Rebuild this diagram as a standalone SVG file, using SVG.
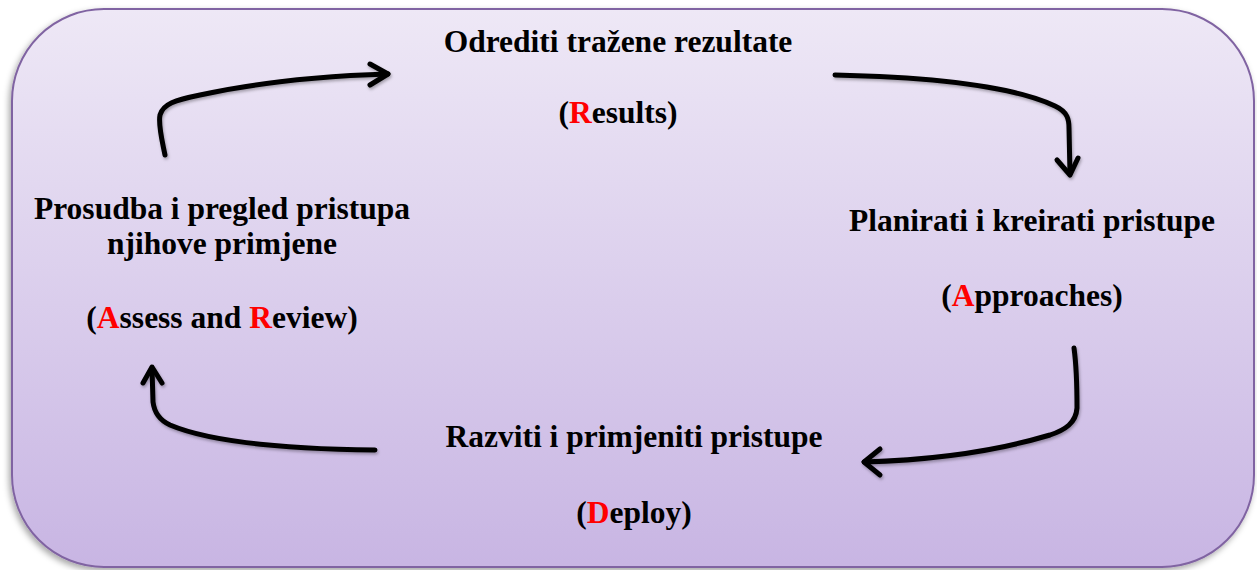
<svg xmlns="http://www.w3.org/2000/svg" width="1257" height="570" viewBox="0 0 1257 570">
<defs>
<linearGradient id="bg" x1="0" y1="0" x2="0" y2="1">
<stop offset="0" stop-color="#eee8f6"/>
<stop offset="1" stop-color="#c8b5e3"/>
</linearGradient>
<filter id="sh" x="-5%" y="-5%" width="110%" height="115%">
<feDropShadow dx="-2" dy="3" stdDeviation="3" flood-color="#000" flood-opacity="0.35"/>
</filter>
<filter id="ash" x="-20%" y="-20%" width="140%" height="140%">
<feDropShadow dx="1" dy="2" stdDeviation="1.5" flood-color="#000" flood-opacity="0.3"/>
</filter>
</defs>
<style>
.t{font-family:"Liberation Serif","Times New Roman",serif;font-weight:bold;font-size:31.5px;fill:#000;text-anchor:middle}
.r{fill:#ff0000}
.c{fill:none;stroke:#000;stroke-width:5;stroke-linecap:round;stroke-linejoin:round}
</style>
<rect id="frame" x="12" y="9" width="1242" height="558" rx="92" ry="92" fill="url(#bg)" stroke="#8064a2" stroke-width="2" filter="url(#sh)"/>
<g id="node-results">
<text class="t" x="618" y="52">Odrediti tražene rezultate</text>
<text class="t" x="618" y="123">(<tspan class="r">R</tspan>esults)</text>
</g>
<g id="node-approaches">
<text class="t" x="1032" y="231">Planirati i kreirati pristupe</text>
<text class="t" x="1032" y="306">(<tspan class="r">A</tspan>pproaches)</text>
</g>
<g id="node-deploy">
<text class="t" x="634" y="447">Razviti i primjeniti pristupe</text>
<text class="t" x="634" y="523">(<tspan class="r">D</tspan>eploy)</text>
</g>
<g id="node-assess">
<text class="t" x="222" y="219">Prosudba i pregled pristupa</text>
<text class="t" x="222" y="254">njihove primjene</text>
<text class="t" x="222" y="328">(<tspan class="r">A</tspan>ssess and <tspan class="r">R</tspan>eview)</text>
</g>
<g id="connectors" filter="url(#ash)">
<path class="c" d="M165,155 C162,140 158,125 160,115 C163,104 175,100 200,95 C260,82 320,76 388,74"/>
<path class="c" d="M370,64 L388,74 L370,85"/>
<path class="c" d="M835,75 C930,77 1010,85 1055,106 C1068,112 1069,120 1069,128 L1070,174"/>
<path class="c" d="M1057,160 L1070,175 L1078,158"/>
<path class="c" d="M1074,348 C1077,370 1077,390 1077,408 C1076,423 1065,430 1050,435 C990,453 930,460 864,462"/>
<path class="c" d="M880,449 L864,462 L880,475"/>
<path class="c" d="M375,450 C290,449 210,442 170,425 C157,419 154,410 153,402 L152,368"/>
<path class="c" d="M143,383 L152,367 L162,383"/>
</g>
</svg>
